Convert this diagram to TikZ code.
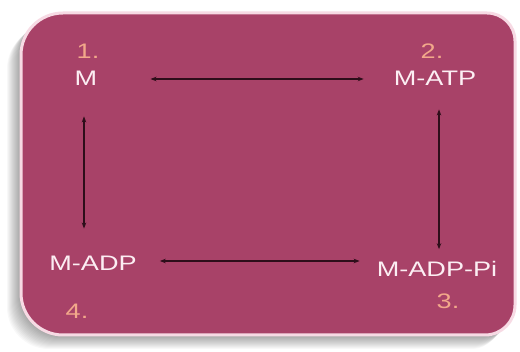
\documentclass[tikz,border=0pt]{standalone}
\usepackage{fontspec}
\usetikzlibrary{arrows.meta,calc,positioning}
\newfontfamily\lblfont[FakeStretch=1.29]{Liberation Sans}
\definecolor{cyclebg}{RGB}{168,66,104}
\definecolor{cyclerim}{RGB}{247,218,228}
\definecolor{numcol}{RGB}{242,168,138}
\definecolor{txtcol}{RGB}{252,238,243}
\definecolor{arrcol}{RGB}{45,14,26}
\newcommand{\cycleboxpath}{(21,59) -- (21,297) arc[start angle=180,end angle=90,radius=42]
  -- (487,339) arc[start angle=90,end angle=0,radius=28]
  -- (515,47) arc[start angle=0,end angle=-90,radius=30]
  -- (63,17) arc[start angle=270,end angle=180,radius=42] -- cycle}

\begin{document}
\begin{tikzpicture}[x=1pt,y=1pt,
  state/.style={font=\lblfont\fontsize{21}{24}\selectfont,text=txtcol,inner sep=3pt},
  stepnum/.style={font=\lblfont\fontsize{21}{24}\selectfont,text=numcol,inner sep=3pt},
  link/.style={{Stealth[length=6pt,width=4.5pt]}-{Stealth[length=6pt,width=4.5pt]},arrcol,line width=1.2pt}]
  \useasboundingbox (0,0) rectangle (520,352);
  \fill[white] (0,0) rectangle (520,352);

  % soft shadow down-left
  \foreach \k in {1,...,14}
    \fill[black,opacity=0.028,shift={(-\k,-\k)}] \cycleboxpath;
  \fill[cyclebg,draw=cyclerim,line width=3pt] \cycleboxpath;

  \node[state] (m) at (86,274) {M};
  \node[state] (matp) at (435,274) {M-ATP};
  \node[state] (madp) at (93,89) {M-ADP};
  \node[state] (madppi) at (437,83) {M-ADP-Pi};

  \node[stepnum] (n1) at (88,301) {1.};
  \node[stepnum] (n2) at (432,301) {2.};
  \node[stepnum] (n3) at (448,51) {3.};
  \node[stepnum] (n4) at (77,41) {4.};

  \draw[link,shorten <=50pt,shorten >=27pt] ([yshift=-1pt]m.east) -- ([yshift=-1pt]m.east -| matp.west);
  \draw[link,shorten <=20pt,shorten >=14pt] ([yshift=2pt]madp.east) -- ([yshift=2pt]madp.east -| madppi.west);
  \draw[link,shorten <=28pt,shorten >=24pt] ([xshift=-2pt]m.south) -- ([xshift=-2pt]m.south |- madp.north);
  \draw[link,shorten <=21pt,shorten >=9pt] ([xshift=4pt]matp.south) -- ([xshift=4pt]matp.south |- madppi.north);

\end{tikzpicture}
\end{document}
